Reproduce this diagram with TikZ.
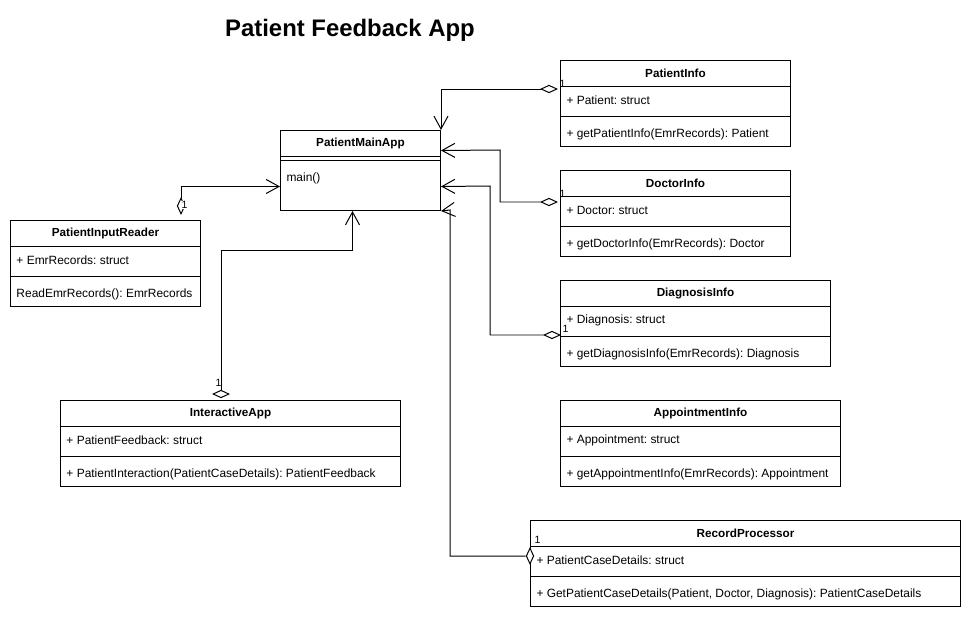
\documentclass[tikz,border=0pt]{standalone}
\usepackage{fontspec}
\setmainfont{Liberation Sans}
\usetikzlibrary{arrows.meta,calc,shapes.geometric}
\frenchspacing

\tikzset{
  classbox/.style={draw, anchor=north west, inner sep=0pt, minimum height=86*0.03cm},
  member/.style={anchor=west, inner sep=0pt},
  assoc/.style={-{Straight Barb[length=11pt,width=12pt]}},
  aggr/.style={diamond, draw, fill=white, inner sep=0pt, minimum width=13.6pt, minimum height=6.5pt},
  aggrv/.style={aggr, minimum width=6.5pt, minimum height=13.6pt},
  mult/.style={font=\fontsize{9}{10}\selectfont, inner sep=0.5pt},
}

\newcommand{\umlclass}[7]{%
  \node[classbox, minimum width=#4*0.03cm] (#1) at (#2,#3) {};
  \draw (#1.north west) ++(0,26) -- ++(#4,0);
  \draw (#1.north west) ++(0,56) -- ++(#4,0);
  \node[font=\bfseries] (#1-t) at ($(#1.north)+(0,13)$) {#5};
  \node[member] (#1-a) at ($(#1.north west)+(6,40)$) {#6};
  \node[member] (#1-m) at ($(#1.north west)+(6,74)$) {#7};
}

\begin{document}
\begin{tikzpicture}[x=0.03cm, y=-0.03cm, line width=0.85pt, font=\fontsize{10.2}{12}\selectfont]
        \useasboundingbox (0,0) rectangle (971,619);
        \node[font=\bfseries\fontsize{20.4}{24}\selectfont] (title) at (350,30) {Patient Feedback App};

        \node[classbox, minimum width=160*0.03cm, minimum height=80*0.03cm] (Main) at (280,130) {};
        \draw (Main.north west) ++(0,26) -- ++(160,0);
        \draw (Main.north west) ++(0,30) -- ++(160,0);
        \node[font=\bfseries] (Main-t) at ($(Main.north)+(0,13)$) {PatientMainApp};
        \node[member] (Main-m) at ($(Main.north west)+(6,48)$) {main()};

        \umlclass{PI}{560}{60}{230}{PatientInfo}{+ Patient: struct}{+ getPatientInfo(EmrRecords): Patient}
        \umlclass{DI}{560}{170}{230}{DoctorInfo}{+ Doctor: struct}{+ getDoctorInfo(EmrRecords): Doctor}
        \umlclass{DG}{560}{280}{270}{DiagnosisInfo}{+ Diagnosis: struct}{+ getDiagnosisInfo(EmrRecords): Diagnosis}
        \umlclass{AP}{560}{400}{280}{AppointmentInfo}{+ Appointment: struct}{+ getAppointmentInfo(EmrRecords): Appointment}
        \umlclass{RP}{530}{520}{430}{RecordProcessor}{+ PatientCaseDetails: struct}{+ GetPatientCaseDetails(Patient, Doctor, Diagnosis): PatientCaseDetails}
        \umlclass{IR}{10}{220}{190}{PatientInputReader}{+ EmrRecords: struct}{ReadEmrRecords(): EmrRecords}
        \umlclass{IA}{60}{400}{340}{InteractiveApp}{+ PatientFeedback: struct}{+ PatientInteraction(PatientCaseDetails): PatientFeedback}

        \node[aggr] (dPI) at (549,89) {};
        \node[aggr] (dDI) at (549,202) {};
        \node[aggr] (dDG) at (552,335) {};
        \node[aggrv] (dRP) at (530,556) {};
        \node[aggrv] (dIR) at (181,206) {};
        \node[aggr] (dIA) at (221,394) {};

        \draw[assoc] (dPI) -| (Main.north east);
        \draw[assoc] (dDI) -| (500,150) -- ($(Main.east)+(0,-20)$);
        \draw[assoc] (dDG) -| (490,186) -- ($(Main.east)+(0,16)$);
        \draw[assoc] (dRP) -| (450,210) -- (Main.south east);
        \draw[assoc] (dIR) |- ($(Main.west)+(0,16)$);
        \draw[assoc] (dIA) -- ++(0,-144) -| ($(Main.south)+(-8,0)$);

        \node[mult] (mPI) at (562.5,84) {1};
        \node[mult] (mDI) at (562.5,194) {1};
        \node[mult] (mDG) at (565.5,329) {1};
        \node[mult] (mRP) at (537.5,540) {1};
        \node[mult, fill=white] (mIR) at (184.5,205) {1};
        \node[mult] (mIA) at (218.5,383) {1};
\end{tikzpicture}
\end{document}
